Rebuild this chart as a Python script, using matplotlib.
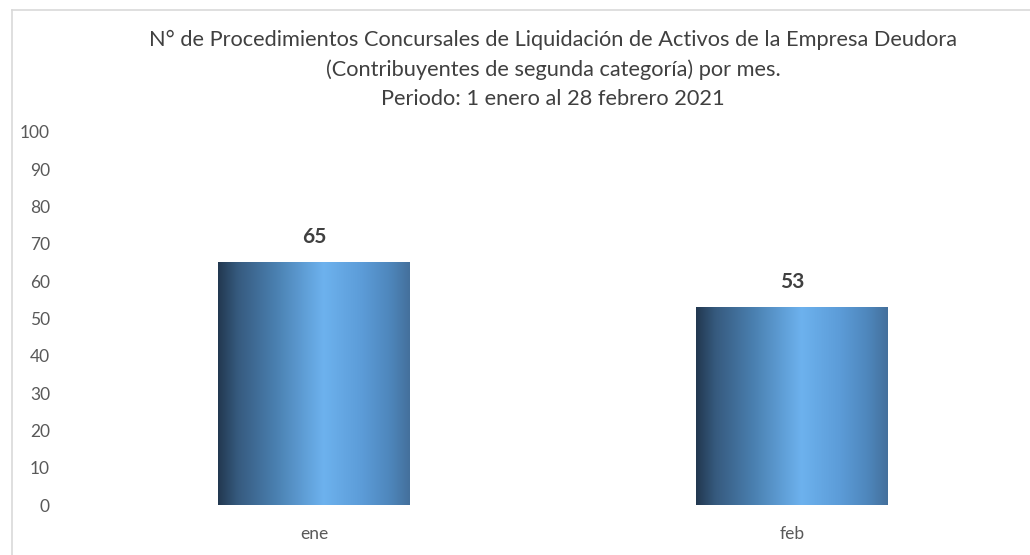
import matplotlib as mpl
mpl.use('Agg')
import matplotlib.pyplot as plt
import numpy as np

# data
months = ['ene', 'feb']
counts = [65, 53]
title = ('N° de Procedimientos Concursales de Liquidación de Activos de la Empresa Deudora\n'
         '(Contribuyentes de segunda categoría) por mes.\n'
         'Periodo: 1 enero al 28 febrero 2021')

plt.rcParams['font.family'] = ['Lato', 'DejaVu Sans']

fig = plt.figure(figsize=(10.3, 5.55), dpi=100)
ax = fig.add_axes([75 / 1030, 50 / 555, 956 / 1030, 373 / 555])

# horizontal gradient used for each bar
grad_colors = ['#223850', '#365a7e', '#4a80b0', '#5f9ed6', '#6db2ee', '#5c9cd8', '#4e86bb', '#44709c']
cmap = mpl.colors.LinearSegmentedColormap.from_list(
    'bar', list(zip([0, 0.1, 0.3, 0.45, 0.55, 0.75, 0.9, 1.0], grad_colors)))
grad = np.linspace(0, 1, 256).reshape(1, -1)

x = np.arange(len(months))
bars = ax.bar(x, counts, width=0.4, color='none', edgecolor='none')
for b, v in zip(bars, counts):
    ax.imshow(grad, cmap=cmap, aspect='auto', zorder=2,
              extent=[b.get_x(), b.get_x() + b.get_width(), 0, b.get_height()])
    ax.text(b.get_x() + b.get_width() / 2, v + 4.2, str(v), ha='center', va='bottom',
            fontsize=15, fontweight='bold', color='#404040')

ax.set_xlim(-0.5, len(months) - 0.5)
ax.set_ylim(0, 100)
ax.set_yticks(range(0, 101, 10))
ax.set_xticks(x)
ax.set_xticklabels(months)
ax.tick_params(length=0, labelsize=12.5, colors='#595959')
ax.tick_params(axis='y', pad=18)
ax.tick_params(axis='x', pad=15)
for s in ax.spines.values():
    s.set_visible(False)

fig.text(0.537, 1 - 30 / 555, title, ha='center', va='top', fontsize=15.7,
         color='#404040', linespacing=1.55)

# outer frame (partially visible)
fig.add_artist(plt.Line2D([12 / 1030, 12 / 1030], [0, 1 - 10 / 555], color='#d9d9d9', lw=1.2))
fig.add_artist(plt.Line2D([12 / 1030, 1], [1 - 10 / 555, 1 - 10 / 555], color='#d9d9d9', lw=1.2))

fig.savefig('out.png')
